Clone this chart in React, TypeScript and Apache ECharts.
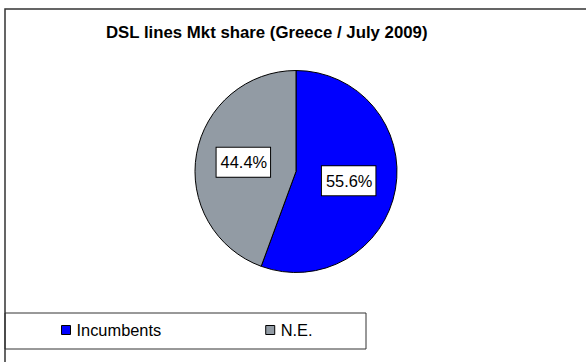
import React, { useEffect, useRef } from "react";
import * as echarts from "echarts";

const titleText = "DSL lines Mkt share (Greece / July 2009)";
const categories = ["Incumbents", "N.E."];
const shares = [55.6, 44.4];
const colors = ["#0000ff", "#929ba4"];

export default function App() {
  const ref = useRef<HTMLDivElement>(null);
  useEffect(() => {
    if (!ref.current) return;
    const chart = echarts.init(ref.current, null, { renderer: "svg" });
    const font = "'Liberation Sans', Arial, sans-serif";
    chart.setOption({
      animation: false,
      backgroundColor: "#ffffff",
      textStyle: { fontFamily: font },
      title: {
        text: titleText,
        left: 106,
        top: 24,
        padding: 0,
        textStyle: { fontSize: 16.8, fontWeight: "bold", color: "#000", fontFamily: font },
      },
      legend: {
        data: categories,
        left: 61,
        top: 322,
        padding: 0,
        icon: "rect",
        itemWidth: 9,
        itemHeight: 9,
        itemGap: 104,
        itemStyle: { borderColor: "#000", borderWidth: 1 },
        textStyle: { fontSize: 16.4, color: "#000", fontFamily: font, padding: [0, 0, 0, 1] },
        selectedMode: false,
      },
      graphic: [
        {
          type: "rect",
          shape: { x: 5, y: 9, width: 700, height: 500 },
          style: { fill: "none", stroke: "#333", lineWidth: 1.5 },
          silent: true,
        },
        {
          type: "rect",
          shape: { x: 5, y: 313, width: 361, height: 36 },
          style: { fill: "none", stroke: "#333", lineWidth: 1 },
          silent: true,
        },
      ],
      series: [
        {
          type: "pie",
          center: [296, 171.5],
          radius: 101,
          startAngle: 90,
          clockwise: true,
          data: categories.map((name, i) => ({
            name,
            value: shares[i],
            itemStyle: { color: colors[i] },
          })),
          itemStyle: { borderColor: "#000", borderWidth: 1 },
          label: {
            show: true,
            position: "inside",
            formatter: "{c}%",
            fontSize: 16.4,
            color: "#000",
            fontFamily: font,
            backgroundColor: "#fff",
            borderColor: "#000",
            borderWidth: 1,
            padding: [7, 3, 6, 4],
          },
          labelLine: { show: false },
          emphasis: { disabled: true },
          silent: true,
        },
      ],
    });
    return () => chart.dispose();
  }, []);
  return (
    <div
      ref={ref}
      style={{ position: "fixed", left: 0, top: 0, width: 586, height: 362 }}
    />
  );
}
